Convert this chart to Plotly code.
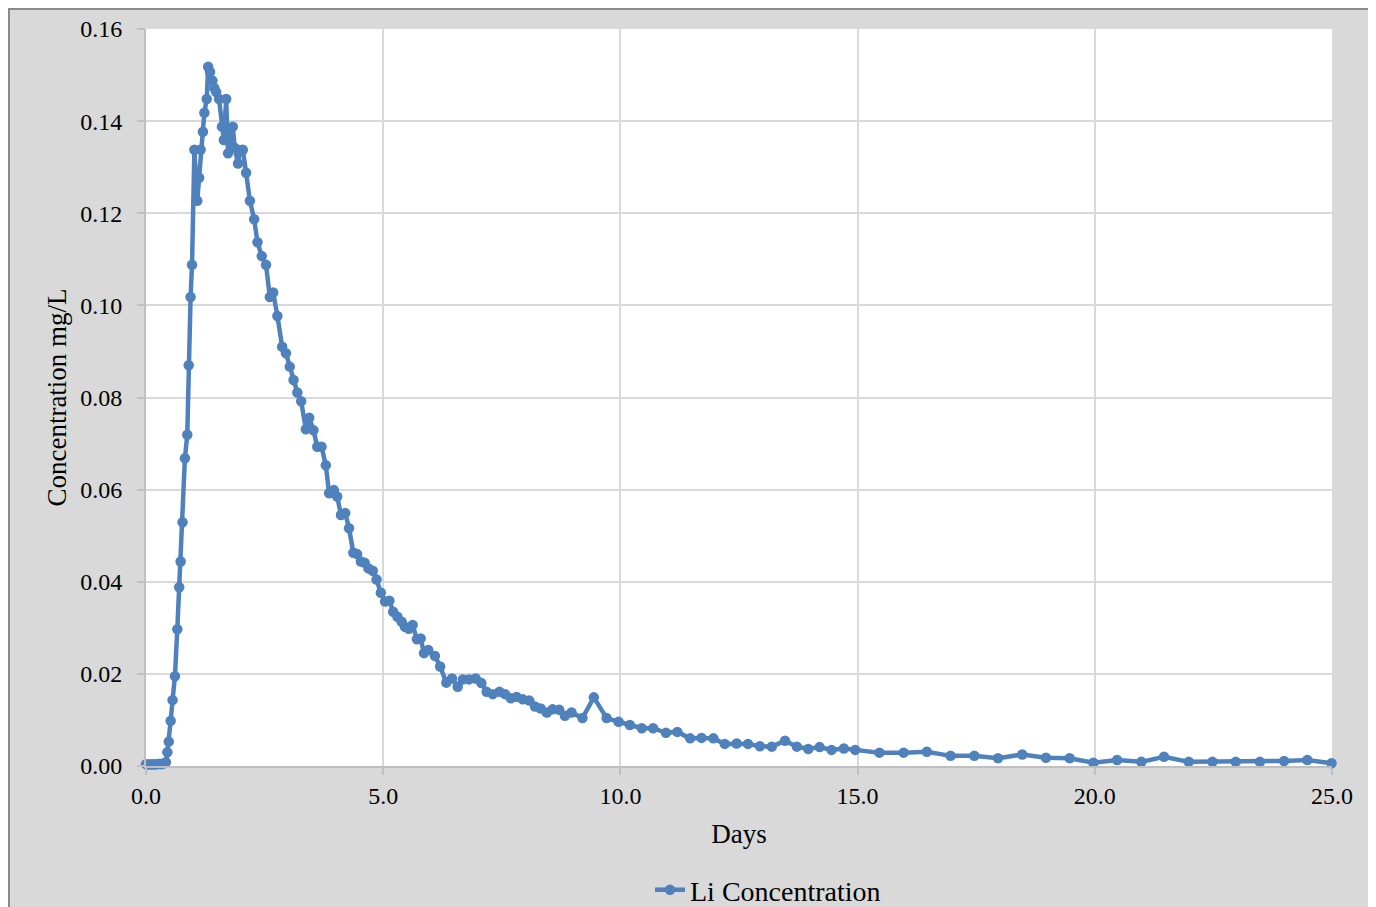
import plotly.graph_objects as go

DAYS = [0.00, 0.04, 0.08, 0.13, 0.17, 0.21, 0.25, 0.29, 0.33, 0.38, 0.42, 0.45, 0.48, 0.52, 0.56,
        0.61, 0.66, 0.70, 0.73, 0.77, 0.82, 0.87, 0.90, 0.94, 0.97, 1.02, 1.08, 1.12, 1.15, 1.20,
        1.23, 1.28, 1.31, 1.35, 1.40, 1.44, 1.48, 1.54, 1.60, 1.64, 1.69, 1.73, 1.77, 1.83, 1.87,
        1.94, 1.98, 2.04, 2.11, 2.19, 2.28, 2.35, 2.44, 2.53, 2.61, 2.68, 2.77, 2.87, 2.95, 3.03,
        3.11, 3.19, 3.27, 3.37, 3.44, 3.53, 3.61, 3.70, 3.79, 3.86, 3.96, 4.03, 4.11, 4.20, 4.28,
        4.37, 4.45, 4.53, 4.61, 4.69, 4.78, 4.86, 4.95, 5.04, 5.13, 5.21, 5.30, 5.39, 5.46, 5.54,
        5.62, 5.71, 5.79, 5.86, 5.95, 6.09, 6.20, 6.33, 6.45, 6.57, 6.68, 6.81, 6.95, 7.07, 7.18,
        7.31, 7.45, 7.57, 7.69, 7.81, 7.94, 8.08, 8.20, 8.32, 8.45, 8.57, 8.71, 8.83, 8.97, 9.20,
        9.44, 9.71, 9.96, 10.20, 10.45, 10.69, 10.96, 11.20, 11.47, 11.71, 11.96, 12.20, 12.45,
        12.69, 12.94, 13.19, 13.47, 13.72, 13.96, 14.20, 14.45, 14.71, 14.95, 15.46, 15.97, 16.46,
        16.96, 17.46, 17.96, 18.47, 18.97, 19.47, 19.97, 20.47, 20.98, 21.46, 21.98, 22.48, 22.97,
        23.48, 23.99, 24.48, 24.99]

CONC = [0.0004, 0.0003, 0.0003, 0.0004, 0.0003, 0.0004, 0.0004, 0.0005, 0.0004, 0.0006, 0.0008,
        0.0030, 0.0053, 0.0098, 0.0143, 0.0195, 0.0297, 0.0388, 0.0444, 0.0529, 0.0668, 0.0719,
        0.0870, 0.1018, 0.1088, 0.1338, 0.1227, 0.1277, 0.1338, 0.1377, 0.1418, 0.1448, 0.1518,
        0.1507, 0.1488, 0.1472, 0.1463, 0.1448, 0.1388, 0.1359, 0.1448, 0.1330, 0.1354, 0.1388,
        0.1342, 0.1308, 0.1337, 0.1338, 0.1288, 0.1227, 0.1187, 0.1137, 0.1107, 0.1088, 0.1018,
        0.1028, 0.0977, 0.0910, 0.0896, 0.0867, 0.0838, 0.0811, 0.0792, 0.0731, 0.0756, 0.0729,
        0.0693, 0.0693, 0.0653, 0.0592, 0.0599, 0.0585, 0.0545, 0.0549, 0.0516, 0.0463, 0.0460,
        0.0444, 0.0441, 0.0429, 0.0424, 0.0405, 0.0376, 0.0357, 0.0359, 0.0335, 0.0324, 0.0313,
        0.0302, 0.0298, 0.0306, 0.0275, 0.0277, 0.0245, 0.0252, 0.0239, 0.0216, 0.0181, 0.0190,
        0.0172, 0.0188, 0.0188, 0.0190, 0.0180, 0.0161, 0.0156, 0.0161, 0.0156, 0.0147, 0.0150,
        0.0145, 0.0142, 0.0129, 0.0125, 0.0116, 0.0123, 0.0122, 0.0109, 0.0116, 0.0104, 0.0149,
        0.0104, 0.0096, 0.0089, 0.0082, 0.0082, 0.0072, 0.0074, 0.0060, 0.0061, 0.0060, 0.0048,
        0.0049, 0.0048, 0.0043, 0.0042, 0.0055, 0.0042, 0.0037, 0.0041, 0.0035, 0.0038, 0.0035,
        0.0029, 0.0029, 0.0031, 0.0022, 0.0022, 0.0017, 0.0025, 0.0018, 0.0017, 0.0007, 0.0013,
        0.0009, 0.0020, 0.0009, 0.0009, 0.0009, 0.0009, 0.0011, 0.0013, 0.0006]

SERIES_NAME = "Li Concentration"
X_TITLE = "Days"
Y_TITLE = "Concentration mg/L"

# figure sits at (8,8) on the page because of the default body margin
W, H = 1363, 920
L, R, T, B = 138, 39, 21, 162
BLUE = "#4F81BD"
FONT = "Liberation Serif"
pw = W - L - R
ph = H - T - B


def fx(p):
    """figure pixel x -> paper (plot-area) fraction"""
    return (p - L) / pw


def fy(p):
    """figure pixel y (from top) -> paper (plot-area) fraction"""
    return (H - B - p) / ph


fig = go.Figure()
fig.add_trace(go.Scatter(
    x=DAYS, y=CONC, mode="lines+markers", name=SERIES_NAME,
    line=dict(color=BLUE, width=4.5),
    marker=dict(color=BLUE, size=10.5, symbol="circle"),
    cliponaxis=False,
))

fig.update_layout(
    width=W, height=H,
    margin=dict(l=L, r=R, t=T, b=B, autoexpand=False),
    paper_bgcolor="#d9d9d9",
    plot_bgcolor="white",
    font=dict(family=FONT, color="black", size=24),
    showlegend=True,
    legend=dict(
        orientation="h", x=fx(760), xanchor="center", y=fy(882), yanchor="middle",
        font=dict(family=FONT, size=28), bgcolor="rgba(0,0,0,0)",
    ),
    xaxis=dict(
        range=[0, 25], dtick=5, tick0=0, tickformat=".1f",
        showgrid=True, gridcolor="#d9d9d9", gridwidth=2,
        showline=True, linecolor="#bfbfbf", linewidth=2,
        ticks="outside", ticklen=7, tickcolor="#bfbfbf", tickwidth=2,
        zeroline=False,
        tickfont=dict(family=FONT, size=24),
        title=dict(text=X_TITLE, font=dict(family=FONT, size=27), standoff=16),
    ),
    yaxis=dict(
        range=[0, 0.16], dtick=0.02, tick0=0, tickformat=".2f",
        showgrid=True, gridcolor="#d9d9d9", gridwidth=2,
        showline=True, linecolor="#bfbfbf", linewidth=2,
        ticks="outside", ticklen=7, tickcolor="#bfbfbf", tickwidth=2,
        zeroline=False,
        tickfont=dict(family=FONT, size=24),
        ticklabelstandoff=10,
        title=dict(text=Y_TITLE, font=dict(family=FONT, size=27), standoff=6),
    ),
    shapes=[
        dict(type="rect", xref="paper", yref="paper",
             x0=fx(1), x1=fx(W - 1), y0=fy(H - 1), y1=fy(1),
             fillcolor="rgba(0,0,0,0)", line=dict(color="#8a8a8a", width=2),
             layer="above"),
    ],
)

fig.write_html("out.html")
